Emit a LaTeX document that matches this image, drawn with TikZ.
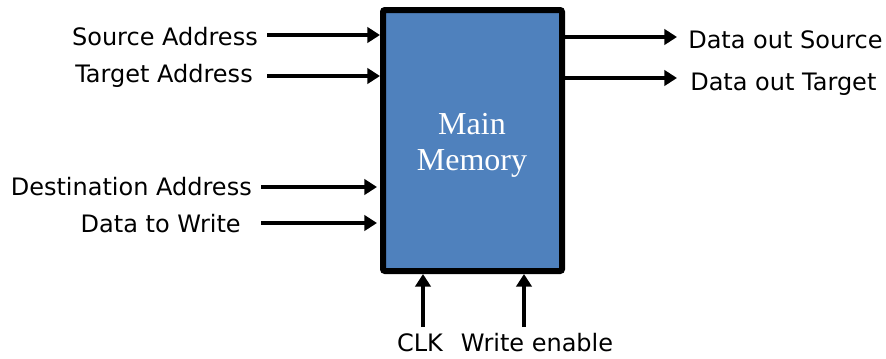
\documentclass[tikz,border=0pt]{standalone}
\usepackage{fontspec}
\setmainfont{DejaVu Sans}
\newfontfamily\memfont{Liberation Serif}
\usetikzlibrary{arrows.meta}
\definecolor{memblue}{HTML}{4F81BD}
\begin{document}
\begin{tikzpicture}[x=0.75pt,y=-0.75pt,
  sig/.style={line width=3.6pt,-{Triangle[length=9.5pt,width=11.5pt]}},
  lbl/.style={inner sep=0pt,font=\fontsize{18}{21}\selectfont},
  membox/.style={draw=black,line width=4.5pt,fill=memblue,rounded corners=1.5pt,
    minimum width=134.25pt,minimum height=195.75pt,inner sep=0pt}]
\useasboundingbox (0,0) rectangle (886,358);

% memory block
\node[membox] (mem) at (472.5,140.5) {};
\node[text=white,align=center,font=\memfont\fontsize{24}{27}\selectfont] (memtxt) at (472,145) {Main\\Memory};

% input labels
\node[lbl,anchor=base east] (src) at (258,45) {Source Address};
\node[lbl,anchor=base east] (tgt) at (253,82) {Target Address};
\node[lbl,anchor=base east] (dst) at (252,195) {Destination Address};
\node[lbl,anchor=base east] (dwr) at (241,232) {Data to Write};

% output labels
\node[lbl,anchor=base west] (dos) at (688,48) {Data out Source};
\node[lbl,anchor=base west] (dot) at (690,90) {Data out Target};

% control labels
\node[lbl,anchor=base] (clk) at (420,351) {CLK};
\node[lbl,anchor=base] (wen) at (537,351) {Write enable};

% arrow end points
\coordinate (srcA) at (267,35);
\coordinate (tgtA) at (267,76);
\coordinate (dstA) at (261,187);
\coordinate (dwrA) at (261,223);
\coordinate (dosA) at (677,37);
\coordinate (dotA) at (677,78);
\coordinate (clkA) at (423,327);
\coordinate (wenA) at (524,327);

\draw[sig] (srcA) -- (srcA -| mem.west);
\draw[sig] (tgtA) -- (tgtA -| mem.west);
\draw[sig,shorten >=2.25pt] (dstA) -- (dstA -| mem.west);
\draw[sig,shorten >=2.25pt] (dwrA) -- (dwrA -| mem.west);
\draw[sig] (dosA -| mem.east) -- (dosA);
\draw[sig] (dotA -| mem.east) -- (dotA);
\draw[sig] (clkA) -- (clkA |- mem.south);
\draw[sig] (wenA) -- (wenA |- mem.south);
\end{tikzpicture}
\end{document}
